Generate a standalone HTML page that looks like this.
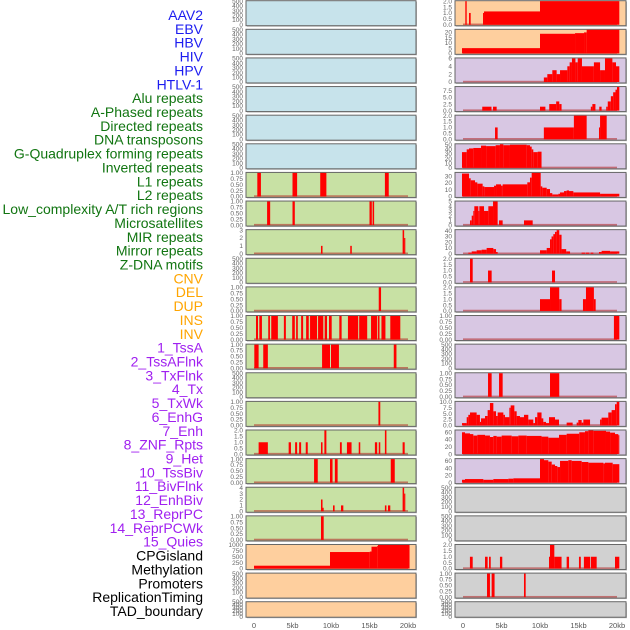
<!DOCTYPE html>
<html><head><meta charset="utf-8">
<style>
html,body{margin:0;padding:0;background:#fff;width:630px;height:630px;overflow:hidden}
svg{display:block}
</style></head>
<body>
<svg id="chart" width="630" height="630" viewBox="0 0 630 630" xmlns="http://www.w3.org/2000/svg" font-family="Liberation Sans, sans-serif"></svg>
<script>
const labels=["AAV2","EBV","HBV","HIV","HPV","HTLV-1","Alu repeats","A-Phased repeats","Directed repeats","DNA transposons","G-Quadruplex forming repeats","Inverted repeats","L1 repeats","L2 repeats","Low_complexity A/T rich regions","Microsatellites","MIR repeats","Mirror repeats","Z-DNA motifs","CNV","DEL","DUP","INS","INV","1_TssA","2_TssAFlnk","3_TxFlnk","4_Tx","5_TxWk","6_EnhG","7_Enh","8_ZNF_Rpts","9_Het","10_TssBiv","11_BivFlnk","12_EnhBiv","13_ReprPC","14_ReprPCWk","15_Quies","CPGisland","Methylation","Promoters","ReplicationTiming","TAD_boundary"];
const labelGroups=[6,13,5,15,5];
const groupColors=["#1c1cf0","#117511","#ffa500","#a020f0","#000000"];
const xTicks=[0,5,10,15,20];
const xTickLabels=["0","5kb","10kb","15kb","20kb"];

// segments: [startKb, endKb, value]
const L6=[[0.43,0.9,1],[5.0,5.6,1],[8.6,9.4,1],[17.0,17.5,1]];
const L7=[[1.7,2.1,1],[5.0,5.3,1],[15.0,15.3,1],[15.4,15.6,1]];
const L8=[[8.7,8.9,1],[12.5,12.7,1],[19.3,19.5,3],[19.5,19.65,2]];
const L10=[[16.2,16.5,1]];
const L11=[[0.26,0.52,1],[0.69,1.03,1],[1.85,2.07,1],[2.24,3.1,1],[3.88,4.14,1],[4.96,5.3,1],[5.47,5.69,1],[6.12,6.38,1],[6.77,7.11,1],[7.28,8.19,1],[8.32,9.0,1],[9.18,9.48,1],[9.74,10.09,1],[11.08,11.38,1],[12.2,13.53,1],[13.66,14.7,1],[15.2,16.0,1],[16.1,16.3,1],[16.55,17.07,1],[17.7,19.0,1]];
const L12=[[0.04,0.6,1],[1.2,1.8,1],[8.84,9.87,1],[10.0,11.03,1],[18.15,18.5,1]];
const L14=[[16.16,16.4,1]];
const L15=[[0.6,1.8,1],[4.5,4.8,1],[5.34,5.6,1],[5.86,6.12,1],[6.72,6.98,1],[8.7,8.9,1],[9.14,9.4,2],[11.16,11.4,1],[12.07,12.67,1],[13.6,13.8,1],[15.7,16.0,1],[16.2,16.4,1],[17.0,17.2,2],[19.3,19.57,1]];
const L16=[[7.8,8.28,1],[9.87,10.2,1],[10.5,10.86,1],[17.76,18.28,1]];
const L17=[[8.7,8.9,2],[8.9,9.05,0.6],[10.26,10.47,1],[11.3,11.6,1],[17.0,17.2,1],[17.4,17.7,1],[19.3,19.5,4],[19.5,19.65,3]];
const L18=[[8.7,9.05,1]];
const L19=[[0,9.87,120],[9.87,15.04,700],[15.04,15.26,720],[15.26,16.0,925],[16.0,16.1,960],[16.1,20.2,1000]];

const R0=[[0.3,0.48,2],[0.78,1.0,1],[2.6,2.73,1],[2.73,10.0,1.13],[10.0,20.3,2]];
const R1=[[-0.13,10.0,5],[10.0,14.55,18.7],[14.55,15.72,19.3],[15.72,16.06,20],[16.06,20.3,22.5]];
const R2=[[10.5,10.95,1.15],[10.95,11.6,2],[11.6,12.16,3],[12.16,12.6,2],[12.6,13.55,3],[13.55,13.85,4],[13.85,14.15,5],[14.15,14.6,6],[14.6,14.9,5],[14.9,15.45,6],[15.45,17.0,4],[17.0,17.8,5],[17.8,18.44,3],[18.44,19.4,6],[19.4,19.87,5],[19.87,20.3,4]];
const R3=[[2.5,3.7,1.5],[3.9,4.37,1.5],[10.0,10.7,1.5],[11.2,12.1,2.5],[12.1,12.5,3.5],[12.5,12.8,2.5],[16.6,16.8,1.5],[16.8,17.2,2.5],[17.7,18.0,1.5],[18.6,18.8,1.5],[18.8,19.2,3.5],[19.2,19.5,5.5],[19.5,19.8,7],[19.8,20.0,8],[20.0,20.3,9]];
const R4=[[4.16,4.5,1],[10.5,14.4,1],[14.4,16.06,2],[17.66,17.8,1],[17.8,18.66,2]];
const R5=[[-0.13,0.48,34],[0.48,0.78,40],[0.78,1.34,42],[1.34,2.34,43],[2.34,3.0,48],[3.0,4.24,47],[4.24,4.8,49],[4.8,5.24,51],[5.24,6.1,49],[6.1,8.27,50],[8.27,8.7,49],[8.7,8.92,46],[8.92,9.13,40],[9.13,9.7,34],[9.7,10.2,35]];
const R6=[[-0.13,0.78,34],[0.78,1.0,27],[1.0,1.56,24],[1.56,1.86,21],[1.86,2.55,19],[2.55,2.77,15],[2.77,4.03,14],[4.03,4.29,16],[4.29,4.94,18],[4.94,5.15,16],[5.15,8.35,18],[8.35,8.7,21],[8.7,8.92,28],[8.92,10.09,35],[10.09,10.3,15],[10.3,10.87,13],[10.87,11.3,11],[11.3,11.6,5],[11.6,12.38,3],[12.38,12.6,4],[12.6,13.12,6],[13.12,13.46,8],[13.46,13.77,9],[13.77,14.33,8],[14.33,17.8,6],[17.8,20.3,4]];
const R7=[[0.91,1.13,1],[1.13,1.34,2],[1.34,1.47,3],[1.47,1.99,4],[1.99,2.12,3],[2.12,2.73,4],[2.73,3.29,3],[3.29,3.9,4],[3.9,4.5,5],[4.68,5.15,1],[7.92,9.05,1]];
const R8=[[0.69,1.13,2],[1.13,1.77,4],[1.77,2.42,6],[2.42,3.07,7],[3.07,3.94,10],[3.94,4.29,8],[4.29,4.5,3],[10.0,10.87,6],[10.87,11.3,10],[11.3,11.5,25],[11.5,11.73,30],[11.73,11.95,34],[11.95,12.16,38],[12.16,12.5,41],[12.5,12.8,33],[12.8,13.4,8],[13.4,13.9,4],[15.4,15.84,2],[15.93,16.4,2],[16.58,16.93,2],[17.66,18.0,3],[18.0,19.1,5],[19.1,20.3,4]];
const R9=[[0.91,1.26,2],[3.25,3.72,1],[11.56,11.95,1]];
const R10=[[10.0,11.3,1],[11.3,12.5,2],[12.5,12.8,1],[15.58,15.97,1],[15.97,17.0,2],[17.0,17.23,1]];
const R11=[[19.6,20.3,1]];
const R13=[[3.25,3.72,1],[4.68,5.15,1],[11.3,12.5,1]];
const R14=[[-0.13,0.48,1],[0.48,0.69,3.5],[0.69,0.91,4.5],[0.91,1.77,5.5],[1.77,2.2,4.5],[2.2,2.34,1.5],[2.34,2.86,3],[2.86,3.2,4],[3.2,3.5,6.5],[3.5,3.94,9.5],[3.94,4.29,6],[4.29,4.5,4],[4.5,5.24,5.5],[5.24,5.45,4.5],[5.45,6.02,3.5],[6.02,6.19,7.5],[6.19,6.67,8.5],[6.67,6.97,6],[6.97,7.4,4],[7.4,7.92,3.5],[7.92,8.48,4.5],[8.48,9.13,2.5],[9.13,9.35,1],[9.35,9.65,3.5],[9.65,10.2,5.5],[10.2,10.43,3],[10.43,10.78,1.5],[10.78,11.17,1],[11.17,11.95,3.5],[11.95,12.47,2.5],[13.46,14.24,1.2],[14.76,14.98,1.2],[14.98,15.41,2.3],[15.41,15.63,1.2],[15.63,16.5,2.5],[17.8,18.0,2.5],[18.0,18.87,3.3],[18.87,19.3,5.5],[19.3,19.74,6.5],[19.74,19.96,9],[19.96,20.3,10]];
const R15=[[-0.13,0.26,60],[0.26,0.91,57],[0.91,1.34,55],[1.34,1.86,51],[1.86,2.86,53],[2.86,3.5,51],[3.5,3.94,47],[3.94,4.37,50],[4.37,5.02,48],[5.02,6.32,51],[6.32,7.19,49],[7.19,8.27,51],[8.27,10.2,50],[10.2,11.08,48],[11.08,12.47,45],[12.47,13.46,53],[13.46,15.1,56],[15.1,15.84,60],[15.84,16.28,63],[16.28,16.93,65],[16.93,18.57,64],[18.57,19.1,62],[19.1,19.74,59],[19.74,20.17,55],[20.17,20.3,52]];
const R16=[[-0.13,0.26,8],[0.26,2.64,10],[2.64,3.94,8],[3.94,5.89,10],[5.89,6.54,11],[6.54,10.0,12],[10.0,10.52,65],[10.52,11.08,62],[11.08,11.52,58],[11.52,11.95,50],[11.95,12.25,46],[12.25,12.6,43],[12.6,13.68,60],[13.68,14.11,62],[14.11,15.41,60],[15.41,16.28,57],[16.28,18.23,55],[18.23,18.44,53],[18.44,19.44,55],[19.44,20.3,51]];
const R19=[[0.9,1.26,1],[2.86,3.2,1],[3.38,3.6,1],[4.8,5.1,1],[11.17,11.3,1],[11.3,11.86,2],[11.86,12.8,1],[13.46,13.77,1],[15.06,15.3,1],[15.7,16.5,1],[16.6,17.36,1],[19.74,20.3,1]];
const R20=[[3.12,3.5,1],[3.72,4.1,1],[7.92,8.14,1]];

const T1=[0,0.25,0.5,0.75,1], T1L=["0.00","0.25","0.50","0.75","1.00"];
const T2=[0,0.5,1,1.5,2], T2L=["0.0","0.5","1.0","1.5","2.0"];
const TE=[0,100,200,300,400,500], TEL=["0","100","200","300","400","500"];
const BG={blue:"#c7e3eb",green:"#c8e1a4",orange:"#fecf9e",purple:"#d8c7e3",grey:"#d1d1d1"};

// panel: [col,row,bg,data,yMax,ticks,tickLabels]
const panels=[];
for(let r=0;r<6;r++) panels.push([0,r,"blue",null,500,TE,TEL]);
panels.push([0,6,"green",L6,1,T1,T1L]);
panels.push([0,7,"green",L7,1,T1,T1L]);
panels.push([0,8,"green",L8,3,[0,1,2,3],["0","1","2","3"]]);
panels.push([0,9,"green",null,500,TE,TEL]);
panels.push([0,10,"green",L10,1,T1,T1L]);
panels.push([0,11,"green",L11,1,T1,T1L]);
panels.push([0,12,"green",L12,1,T1,T1L]);
panels.push([0,13,"green",null,500,TE,TEL]);
panels.push([0,14,"green",L14,1,T1,T1L]);
panels.push([0,15,"green",L15,2,T2,T2L]);
panels.push([0,16,"green",L16,1,T1,T1L]);
panels.push([0,17,"green",L17,4,[0,1,2,3,4],["0","1","2","3","4"]]);
panels.push([0,18,"green",L18,1,T1,T1L]);
panels.push([0,19,"orange",L19,1000,[0,250,500,750,1000],["0","250","500","750","1000"]]);
panels.push([0,20,"orange",null,500,TE,TEL]);
panels.push([0,21,"orange",null,500,TE,TEL]);
panels.push([1,0,"orange",R0,2,T2,T2L]);
panels.push([1,1,"orange",R1,22.5,[0,5,10,15,20],["0","5","10","15","20"]]);
panels.push([1,2,"purple",R2,6,[0,2,4,6],["0","2","4","6"]]);
panels.push([1,3,"purple",R3,9,[0,2.5,5,7.5],["0.0","2.5","5.0","7.5"]]);
panels.push([1,4,"purple",R4,2,T2,T2L]);
panels.push([1,5,"purple",R5,51,[0,10,20,30,40,50],["0","10","20","30","40","50"]]);
panels.push([1,6,"purple",R6,35,[0,10,20,30],["0","10","20","30"]]);
panels.push([1,7,"purple",R7,5,[0,1,2,3,4,5],["0","1","2","3","4","5"]]);
panels.push([1,8,"purple",R8,41,[0,10,20,30,40],["0","10","20","30","40"]]);
panels.push([1,9,"purple",R9,2,T2,T2L]);
panels.push([1,10,"purple",R10,2,T2,T2L]);
panels.push([1,11,"purple",R11,1,T1,T1L]);
panels.push([1,12,"purple",null,500,TE,TEL]);
panels.push([1,13,"purple",R13,1,T1,T1L]);
panels.push([1,14,"purple",R14,10,[0,2.5,5,7.5,10],["0.0","2.5","5.0","7.5","10.0"]]);
panels.push([1,15,"purple",R15,65,[0,20,40,60],["0","20","40","60"]]);
panels.push([1,16,"purple",R16,65,[0,20,40,60],["0","20","40","60"]]);
panels.push([1,17,"grey",null,500,TE,TEL]);
panels.push([1,18,"grey",null,500,TE,TEL]);
panels.push([1,19,"grey",R19,2,T2,T2L]);
panels.push([1,20,"grey",R20,1,T1,T1L]);
panels.push([1,21,"grey",null,500,TE,TEL]);

const NS="http://www.w3.org/2000/svg";
const svg=document.getElementById("chart");
function mk(tag,attrs,parent){const e=document.createElementNS(NS,tag);for(const k in attrs)e.setAttribute(k,attrs[k]);(parent||svg).appendChild(e);return e;}

const COLX=[[246,416,254],[455,626,463]];
const PXKB=7.7;
function xScale(col,kb){return COLX[col][2]+kb*PXKB;}
function rowTop(r){return 0.7+r*28.62;}
function rowH(r){return r===21?15.5:25;}

// labels
let li=0;
labelGroups.forEach((n,g)=>{
  for(let k=0;k<n;k++){
    const t=mk("text",{x:203,y:15+li*13.86+5,"text-anchor":"end","font-size":"14",fill:groupColors[g]});
    
    
    t.textContent=labels[li];li++;
  }
});

panels.forEach(p=>{
  const [col,row,bg,data,M,ticks,tl]=p;
  const x0=COLX[col][0],x1=COLX[col][1],top=rowTop(row),h=rowH(row);
  const lo=-0.04*M,hi=1.02*M;
  const ys=v=>top+h-(v-lo)/(hi-lo)*h;
  const g=mk("g",{});
  
  
  mk("rect",{x:x0+1,y:top+1,width:x1-x0,height:h,fill:"#bbb"},g);
  const bgR=mk("rect",{x:x0,y:top,width:x1-x0,height:h,fill:BG[bg],stroke:"#666","stroke-width":1},g);
  
  
  if(data){
    const base=mk("rect",{x:xScale(col,0),y:ys(0)-1.2,width:20*PXKB,height:1.6,fill:"#b02020",opacity:0.55},g);
    
    
    data.forEach(d=>{
      const xa=Math.max(x0,xScale(col,d[0])),xb=Math.min(x1,xScale(col,d[1]));
      const b=mk("rect",{x:xa,y:ys(d[2]),width:Math.max(0.8,xb-xa),height:ys(0)-ys(d[2]),fill:"#ff0000"},g);
      
      
    });
  }
  ticks.forEach((tv,i)=>{
    const t=mk("text",{x:x0-3,y:ys(tv)+2.2,"text-anchor":"end","font-size":"6.5",fill:"#666"},g);
    
    
    t.textContent=tl[i];
  });
});

[0,1].forEach(col=>{
  xTicks.forEach((v,i)=>{
    const t=mk("text",{x:xScale(col,v),y:628,"text-anchor":"middle","font-size":"7.5",fill:"#555"});
    
    
    t.textContent=xTickLabels[i];
  });
});
</script>
</body></html>
